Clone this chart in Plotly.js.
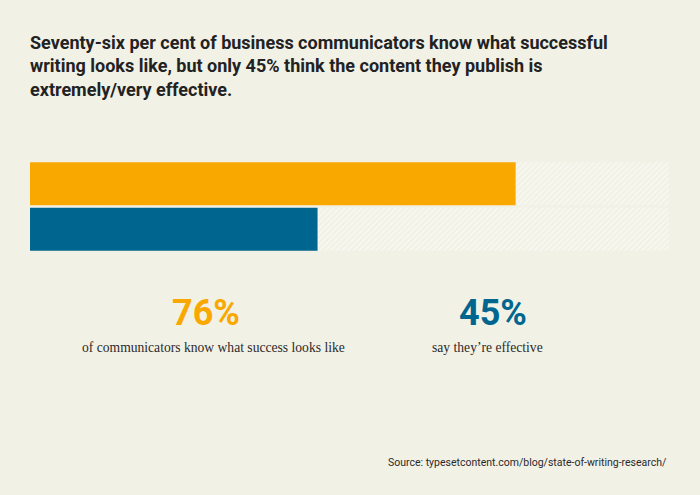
<!DOCTYPE html>
<html>
<head>
<meta charset="utf-8">
<script src="https://cdn.plot.ly/plotly-3.0.1.min.js"></script>
<style>html,body{margin:0;padding:0;background:#f2f1e6;}#chart{width:700px;height:495px;}</style>
</head>
<body>
<div id="chart"></div>
<script>
const categories = ["know what success looks like", "say they're effective"];
const values = [76, 45];
const totals = [100, 100];
const barColors = ["#f9a800", "#00668f"];
const bigLabels = ["76%", "45%"];
const subLabels = ["of communicators know what success looks like", "say they\u2019re effective"];
const titleText = "Seventy-six per cent of business communicators know what successful<br>writing looks like, but only 45% think the content they publish is<br>extremely/very effective.";
const sourceText = "Source: typesetcontent.com/blog/state-of-writing-research/";

const W = 700, H = 495;
const L = 30, R = 669, T = 161, B = 252;
const px = x => (x - L) / (R - L);
const py = y => (B - y) / (B - T);

const bg = {
  type: 'bar', orientation: 'h', y: categories, x: totals,
  marker: {color: '#f5f4ec', line: {width: 0},
    pattern: {shape: '/', fgcolor: '#fafaf4', size: 4, solidity: 0.3}},
  hoverinfo: 'skip', showlegend: false
};
const fg = {
  type: 'bar', orientation: 'h', y: categories, x: values,
  marker: {color: barColors, line: {width: 0}},
  hoverinfo: 'skip', showlegend: false
};

const labelX = [206, 493];
const subX = [213, 487];
const annotations = [];
for (let i = 0; i < values.length; i++) {
  annotations.push({
    xref: 'paper', yref: 'paper', x: px(labelX[i]), y: py(313), xanchor: 'center', yanchor: 'middle',
    text: bigLabels[i], showarrow: false,
    font: {family: 'Roboto, Arial, sans-serif', size: 36, weight: 'bold', color: barColors[i]}
  });
  annotations.push({
    xref: 'paper', yref: 'paper', x: px(subX[i]), y: py(347), xanchor: 'center', yanchor: 'middle',
    text: subLabels[i], showarrow: false,
    font: {family: '"Liberation Serif", "Times New Roman", serif', size: 13.6, color: '#2a2a2a'}
  });
}
annotations.push({
  xref: 'paper', yref: 'paper', x: px(669), y: py(462), xanchor: 'right', yanchor: 'middle',
  text: sourceText, showarrow: false,
  font: {family: 'Roboto, Arial, sans-serif', size: 10.5, color: '#2a2a2a'}
});

const layout = {
  width: W, height: H,
  paper_bgcolor: '#f2f1e6', plot_bgcolor: 'rgba(0,0,0,0)',
  margin: {l: L, r: W - R, t: T, b: H - B, pad: 0},
  barmode: 'overlay', bargap: 0.055,
  title: {
    text: '<b>' + titleText + '</b>', x: L / W, xanchor: 'left', xref: 'container',
    y: 1 - 49 / H, yanchor: 'top', yref: 'container',
    font: {family: 'Roboto, Arial, sans-serif', size: 18, color: '#222222', lineposition: 'none'}
  },
  xaxis: {range: [0, 100], visible: false, fixedrange: true},
  yaxis: {autorange: 'reversed', visible: false, fixedrange: true},
  annotations: annotations,
  showlegend: false
};

Plotly.newPlot('chart', [bg, fg], layout, {displayModeBar: false, staticPlot: true});
</script>
</body>
</html>
